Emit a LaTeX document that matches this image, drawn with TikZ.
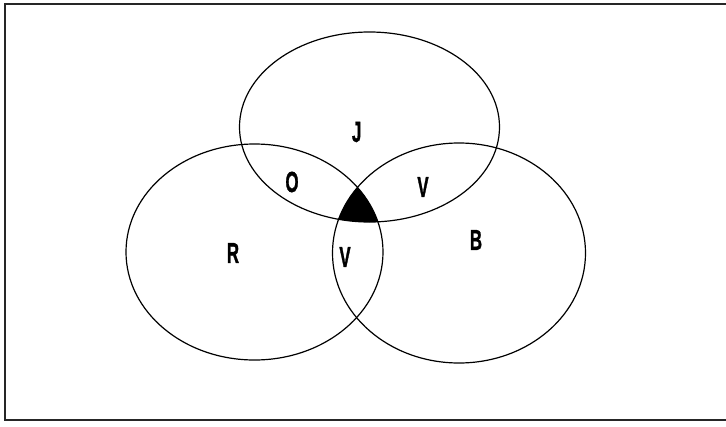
\documentclass[tikz,border=0pt]{standalone}
\usepackage{fontspec}
\setmainfont{Liberation Sans}
\newfontfamily\labfont{Liberation Sans Bold}[FakeBold=1.6]
\begin{document}
\begin{tikzpicture}[x=1pt,y=-1pt,
  setline/.style={line width=1.2pt, draw=black},
  frameline/.style={line width=1.3pt, draw=black!85},
  lab/.style={inner sep=0pt, font=\labfont\fontsize{29}{29}\selectfont}]
\useasboundingbox (0,0) rectangle (726,426);
% frame (right edge lies outside the picture)
\coordinate (fTR) at (727,4);
\coordinate (fTL) at (5,4);
\coordinate (fBL) at (5,420);
\coordinate (fBR) at (727,420);
\draw[frameline] (fTR) -- (fTL) -- (fBL) -- (fBR);
% centres
\coordinate (cJ) at (369.5,127);
\coordinate (cR) at (254.5,252);
\coordinate (cB) at (459,253);
% triple intersection
\begin{scope}
  \clip (cJ) ellipse [x radius=130, y radius=95];
  \clip (cR) ellipse [x radius=128.5, y radius=108];
  \fill[black] (cB) ellipse [x radius=126.5, y radius=110];
\end{scope}
% ellipses
\draw[setline] (cJ) ellipse [x radius=130, y radius=95];
\draw[setline] (cR) ellipse [x radius=128.5, y radius=108];
\draw[setline] (cB) ellipse [x radius=126.5, y radius=110];
% labels
\node[lab] (J) at (356.7,132) {\scalebox{0.58}[1]{J}};
\node[lab] (O) at (292,182) {\scalebox{0.58}[1]{O}};
\node[lab] (V1) at (423,187) {\scalebox{0.58}[1]{V}};
\node[lab] (V2) at (345,257) {\scalebox{0.58}[1]{V}};
\node[lab] (R) at (233,253) {\scalebox{0.58}[1]{R}};
\node[lab] (B) at (476,240) {\scalebox{0.58}[1]{B}};
\end{tikzpicture}
\end{document}
